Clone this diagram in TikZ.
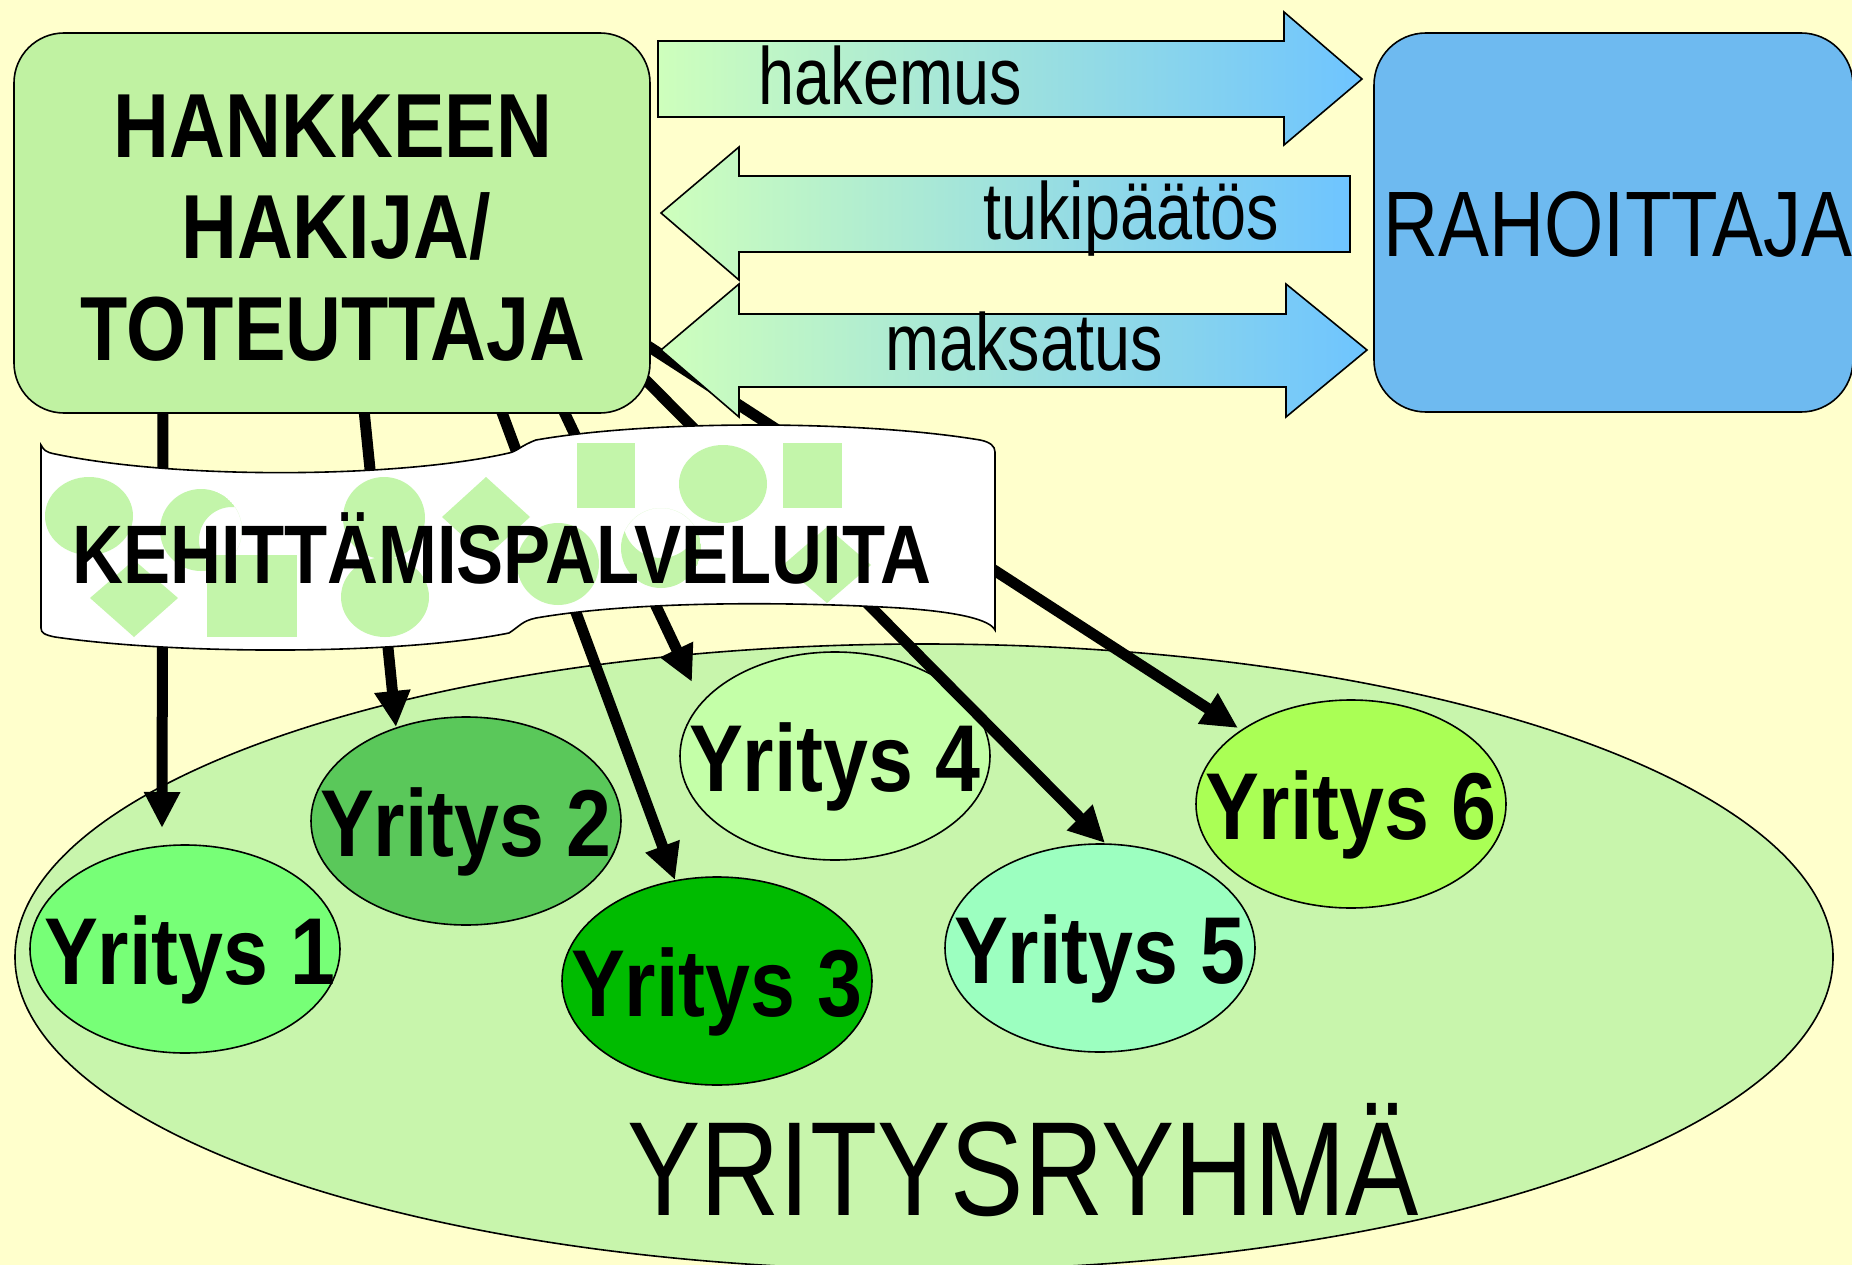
\documentclass[tikz,border=0pt]{standalone}
\usepackage{fontspec}
\setmainfont[FakeStretch=0.8]{Liberation Sans}
\newfontfamily\widefont[FakeStretch=0.85]{Liberation Sans}
\newfontfamily\rahfont[FakeStretch=0.82]{Liberation Sans}
\usetikzlibrary{shapes.geometric,arrows.meta,calc}
\definecolor{bg}{RGB}{255,255,204}
\definecolor{boxgreen}{RGB}{192,242,162}
\definecolor{grpgreen}{RGB}{200,245,172}
\definecolor{rahblue}{RGB}{110,186,240}
\definecolor{shp}{RGB}{195,245,170}
\definecolor{arrgreen}{RGB}{206,255,188}
\definecolor{arrmid}{RGB}{172,228,214}
\definecolor{arrblue}{RGB}{110,196,255}
\definecolor{yA}{RGB}{119,255,119}
\definecolor{yB}{RGB}{90,200,90}
\definecolor{yC}{RGB}{0,187,0}
\definecolor{yD}{RGB}{196,255,168}
\definecolor{yE}{RGB}{156,255,192}
\definecolor{yF}{RGB}{170,255,85}
\tikzset{
  outl/.style={draw=black, line width=1.6pt},
  ybox/.style={ellipse, outl, minimum width=310pt, minimum height=208pt, inner sep=0pt},
  ylab/.style={anchor=base, inner sep=0pt, font=\widefont\fontsize{95}{95}\selectfont\bfseries},
  blab/.style={anchor=base, inner sep=0pt, font=\fontsize{81}{81}\selectfont},
  hlab/.style={anchor=base, inner sep=0pt, font=\widefont\fontsize{91}{91}\selectfont\bfseries},
  arr/.style={line width=11pt, -{Triangle[length=36pt,width=34pt]}},
  blockarrow/.style={outl, left color=arrgreen, middle color=arrmid, right color=arrblue}
}
\begin{document}
\begin{tikzpicture}[x=1pt,y=-1pt]
\useasboundingbox (0,0) rectangle (1852,1265);
\clip (0,0) rectangle (1852,1265);
\fill[bg] (0,0) rectangle (1852,1265);

% company group
\node[ellipse, outl, fill=grpgreen, minimum width=1818pt, minimum height=626pt, inner sep=0pt] (grp) at (924,957) {};
\node[anchor=base, inner sep=0pt, font=\rahfont\fontsize{134}{134}\selectfont] (grplab) at (1023,1215) {YRITYSRYHMÄ};

% companies
\node[ybox, fill=yA] (y1) at (185,949) {};
\node[ybox, fill=yB] (y2) at (466,821) {};
\node[ybox, fill=yC] (y3) at (717,981) {};
\node[ybox, fill=yD] (y4) at (835,756) {};
\node[ybox, fill=yE] (y5) at (1100,948) {};
\node[ybox, fill=yF] (y6) at (1351,804) {};
\node[ylab] (l1) at ($(y1.center)+(5,35)$) {Yritys 1};
\node[ylab] (l2) at ($(y2.center)+(0,35)$) {Yritys 2};
\node[ylab] (l3) at ($(y3.center)+(0,35)$) {Yritys 3};
\node[ylab] (l4) at ($(y4.center)+(0,35)$) {Yritys 4};
\node[ylab] (l5) at ($(y5.center)+(0,35)$) {Yritys 5};
\node[ylab] (l6) at ($(y6.center)+(0,35)$) {Yritys 6};

% arrows to companies
\coordinate (s1) at (163,380); \coordinate (t1) at (162,828);
\coordinate (s2) at (361,380); \coordinate (t2) at (396,727);
\coordinate (s3) at (490,380); \coordinate (t3) at (675,880);
\coordinate (s4) at (549,380); \coordinate (t4) at (692,682);
\coordinate (s5) at (600,334); \coordinate (t5) at (1105,843);
\coordinate (s6) at (600,315); \coordinate (t6) at (1238,728);
\draw[arr] (s1) -- (t1);
\draw[arr] (s2) -- (t2);
\draw[arr] (s3) -- (t3);
\draw[arr] (s4) -- (t4);
\draw[arr] (s5) -- (t5);
\draw[arr] (s6) -- (t6);

% applicant box
\node[rectangle, outl, fill=boxgreen, rounded corners=50pt, minimum width=636pt, minimum height=380pt, inner sep=0pt] (hk) at (332,223) {};
\node[hlab] (hk1) at (333,158) {HANKKEEN};
\node[hlab] (hk2) at (336,259) {HAKIJA/};
\node[hlab] (hk3) at (333,360) {TOTEUTTAJA};

% block arrows
\shadedraw[blockarrow] (658,41) -- (1284,41) -- (1284,12) -- (1362,79) -- (1284,145) -- (1284,117) -- (658,117) -- cycle;
\shadedraw[blockarrow] (661,213) -- (739,147) -- (739,176) -- (1350,176) -- (1350,252) -- (739,252) -- (739,280) -- cycle;
\shadedraw[blockarrow] (661,350) -- (739,284) -- (739,314) -- (1286,314) -- (1286,284) -- (1367,350) -- (1286,417) -- (1286,387) -- (739,387) -- (739,417) -- cycle;
\node[blab] (lhak) at (890,105) {hakemus};
\node[blab] (ltuk) at (1131,240) {tukipäätös};
\node[blab] (lmak) at (1024,370) {maksatus};

% funder box
\node[rectangle, outl, fill=rahblue, rounded corners=52pt, minimum width=479pt, minimum height=379pt, inner sep=0pt] (rah) at (1613.5,222.5) {};
\node[anchor=base, inner sep=0pt, font=\rahfont\fontsize{93}{93}\selectfont] (rahlab) at (1618,257) {RAHOITTAJA};

% banner
\begin{scope}
\clip (41,445) .. controls (44,450) and (45,452) .. (55,454) .. controls (180,480) and (400,478) .. (509,453) .. controls (518,451) and (520,446) .. (536,440) .. controls (650,420) and (860,420) .. (980,440) .. controls (990,442) and (995,446) .. (995,452) -- (995,630) .. controls (990,620) and (960,612) .. (900,608) .. controls (800,602) and (640,600) .. (536,618) .. controls (522,621) and (520,626) .. (509,633) .. controls (400,655) and (180,655) .. (55,637) .. controls (45,635) and (41,633) .. (41,628) -- cycle;
\fill[white] (0,400) rectangle (1000,700);
\fill[shp] (89,516) ellipse (44pt and 39pt);
\begin{scope}
\clip (201,530) circle (41pt);
\fill[shp, even odd rule] (201,530) circle (41pt) (232,540) circle (33pt);
\end{scope}
\fill[shp] (134,560) -- (178,598) -- (134,637) -- (90,598) -- cycle;
\fill[shp] (207,555) rectangle (297,637);
\fill[shp] (384,518) ellipse (41pt and 41pt);
\fill[shp] (385,597) ellipse (44pt and 40pt);
\fill[shp] (486,477) -- (530,517) -- (486,557) -- (442,517) -- cycle;
\fill[shp] (577,443) rectangle (635,508);
\fill[shp] (723,484) ellipse (44pt and 39pt);
\fill[shp] (783,443) rectangle (842,508);
\fill[shp] (558,564) circle (41pt);
\begin{scope}
\clip (661,548) circle (40pt);
\fill[shp, even odd rule] (661,548) circle (40pt) (661,520) circle (38pt);
\end{scope}
\fill[shp] (827,527) -- (871,565) -- (827,603) -- (783,565) -- cycle;
\end{scope}
\draw[outl] (41,445) .. controls (44,450) and (45,452) .. (55,454) .. controls (180,480) and (400,478) .. (509,453) .. controls (518,451) and (520,446) .. (536,440) .. controls (650,420) and (860,420) .. (980,440) .. controls (990,442) and (995,446) .. (995,452) -- (995,630) .. controls (990,620) and (960,612) .. (900,608) .. controls (800,602) and (640,600) .. (536,618) .. controls (522,621) and (520,626) .. (509,633) .. controls (400,655) and (180,655) .. (55,637) .. controls (45,635) and (41,633) .. (41,628) -- cycle;
\node[anchor=base, inner sep=0pt, font=\widefont\fontsize{83}{83}\selectfont\bfseries] (keh) at (502,583) {KEHITTÄMISPALVELUITA};
\end{tikzpicture}
\end{document}
